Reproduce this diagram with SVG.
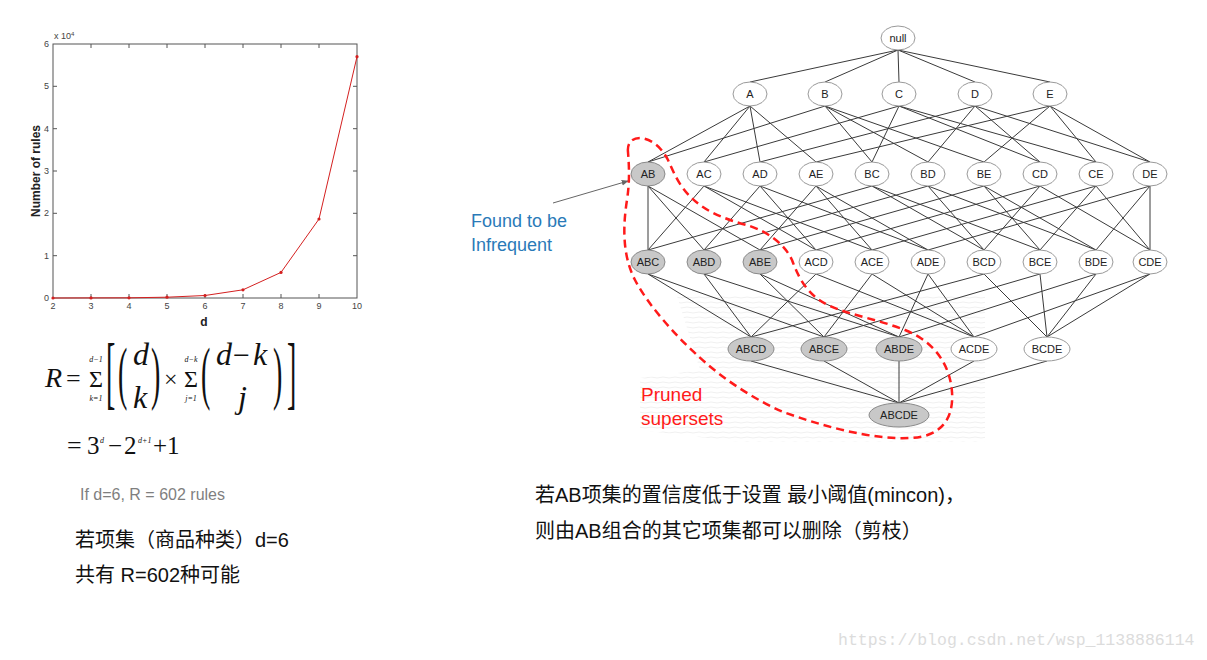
<svg xmlns="http://www.w3.org/2000/svg" width="1207" height="660" viewBox="0 0 1207 660">
<style>
.tk{font-family:"Liberation Sans",Arial,sans-serif;font-size:9px;fill:#444}
.nl{font-family:"Liberation Sans",Arial,sans-serif;font-size:11px;fill:#222;text-anchor:middle}
.nw{fill:#fff;stroke:#9a9a9a;stroke-width:1}
.ng{fill:#c8c8c8;stroke:#8a8a8a;stroke-width:1}
.m{font-family:"Liberation Serif","Times New Roman",serif;fill:#111}
.cn{font-family:"Liberation Sans","Noto Sans CJK SC",sans-serif;font-size:20px;fill:#111}
</style>
<defs>
<marker id="ah" viewBox="0 0 10 10" refX="9" refY="5" markerWidth="7" markerHeight="7" orient="auto"><path d="M0,1 L10,5 L0,9 Z" fill="#666"/></marker>
<pattern id="stripes" width="12" height="5" patternUnits="userSpaceOnUse"><path d="M0,2.5 Q3,1.5 6,2.5 T12,2.5" fill="none" stroke="#f0f0f0" stroke-width="1"/></pattern>
</defs>
<rect width="1207" height="660" fill="#fff"/>

<!-- faint shaded plane behind lower levels -->
<path d="M677,296 L985,296 L985,442 L740,442 L640,430 L640,378 L700,370 Z" fill="url(#stripes)"/>

<!-- chart -->
<g id="chart">
<rect x="53" y="44" width="304" height="254" fill="#fff" stroke="#555" stroke-width="1"/>
<path d="M91,298v-4M129,298v-4M167,298v-4M205,298v-4M243,298v-4M281,298v-4M319,298v-4M91,44v4M129,44v4M167,44v4M205,44v4M243,44v4M281,44v4M319,44v4M53,255.7h4M53,213.3h4M53,171h4M53,128.7h4M53,86.3h4M357,255.7h-4M357,213.3h-4M357,171h-4M357,128.7h-4M357,86.3h-4" stroke="#555" stroke-width="1"/>
<g class="tk" text-anchor="middle">
<text x="53" y="309">2</text><text x="91" y="309">3</text><text x="129" y="309">4</text><text x="167" y="309">5</text><text x="205" y="309">6</text><text x="243" y="309">7</text><text x="281" y="309">8</text><text x="319" y="309">9</text><text x="357" y="309">10</text>
</g>
<g class="tk" text-anchor="end">
<text x="49" y="301">0</text><text x="49" y="259">1</text><text x="49" y="216">2</text><text x="49" y="174">3</text><text x="49" y="132">4</text><text x="49" y="89">5</text><text x="49" y="47">6</text>
</g>
<text class="tk" x="54" y="39" font-size="8">x 10<tspan dy="-3" font-size="6">4</tspan></text>
<text x="40" y="171" transform="rotate(-90 40 171)" text-anchor="middle" font-family="Liberation Sans,Arial,sans-serif" font-size="12" font-weight="bold" fill="#222">Number of rules</text>
<text x="204" y="326" text-anchor="middle" font-family="Liberation Sans,Arial,sans-serif" font-size="12" font-weight="bold" fill="#222">d</text>
<polyline points="53,298 91,297.9 129,297.8 167,297.2 205,295.5 243,289.8 281,272.4 319,219 357,56.7" fill="none" stroke="#d42020" stroke-width="1"/>
<g fill="#d42020">
<circle cx="53" cy="298" r="1.6"/><circle cx="91" cy="297.9" r="1.6"/><circle cx="129" cy="297.8" r="1.6"/><circle cx="167" cy="297.2" r="1.6"/><circle cx="205" cy="295.5" r="1.6"/><circle cx="243" cy="289.8" r="1.6"/><circle cx="281" cy="272.4" r="1.6"/><circle cx="319" cy="219" r="1.6"/><circle cx="357" cy="56.7" r="1.6"/>
</g>
</g>

<!-- formula -->
<g id="formula" class="m">
<text x="45" y="387" font-size="28" font-style="italic">R</text>
<text x="66" y="387" font-size="26">=</text>
<text x="96" y="362" font-size="8" font-style="italic" text-anchor="middle">d−1</text>
<text x="96" y="387" font-size="24" text-anchor="middle">Σ</text>
<text x="96" y="401" font-size="8" font-style="italic" text-anchor="middle">k=1</text>
<text transform="translate(106,380) scale(1,2.9)" y="6.5" font-size="28">[</text>
<text transform="translate(118,380) scale(1,2.5)" y="6.5" font-size="28">(</text>
<text x="133" y="365" font-size="32" font-style="italic">d</text>
<text x="133" y="408" font-size="32" font-style="italic">k</text>
<text transform="translate(151,380) scale(1,2.5)" y="6.5" font-size="28">)</text>
<text x="164" y="387" font-size="24">×</text>
<text x="191" y="362" font-size="8" font-style="italic" text-anchor="middle">d−k</text>
<text x="191" y="387" font-size="24" text-anchor="middle">Σ</text>
<text x="191" y="401" font-size="8" font-style="italic" text-anchor="middle">j=1</text>
<text transform="translate(201,380) scale(1,2.5)" y="6.5" font-size="28">(</text>
<text x="216" y="365" font-size="32" font-style="italic">d</text>
<text x="233" y="365" font-size="30">−</text>
<text x="253" y="365" font-size="32" font-style="italic">k</text>
<text x="238" y="408" font-size="32" font-style="italic">j</text>
<text transform="translate(273,380) scale(1,2.5)" y="6.5" font-size="28">)</text>
<text transform="translate(287,380) scale(1,2.9)" y="6.5" font-size="28">]</text>
<text x="67" y="454" font-size="26">=</text>
<text x="87" y="454" font-size="25">3</text>
<text x="100" y="443" font-size="8" font-style="italic">d</text>
<text x="108" y="454" font-size="25">−</text>
<text x="124" y="454" font-size="25">2</text>
<text x="138" y="443" font-size="8" font-style="italic">d+1</text>
<text x="153" y="454" font-size="25">+</text>
<text x="167" y="454" font-size="25">1</text>
</g>
<text x="80" y="500" font-family="Liberation Sans,Arial,sans-serif" font-size="16" fill="#7f7f7f">If d=6,  R = 602 rules</text>

<text class="cn" x="75" y="547">若项集（商品种类）d=6</text>
<text class="cn" x="75" y="582">共有 R=602种可能</text>
<text class="cn" x="535" y="502">若AB项集的置信度低于设置 最小阈值(mincon)，</text>
<text class="cn" x="535" y="538">则由AB组合的其它项集都可以删除（剪枝）</text>
<text x="838" y="645" font-family="Liberation Mono,monospace" font-size="16.5" fill="#dcdcdc">https://blog.csdn.net/wsp_1138886114</text>

<!-- connectors -->
<g id="connectors" fill="none" stroke="#3a3a3a" stroke-width="1">
<path d="M898,50L750,82M898,50L825,82M898,50L899,82M898,50L975,82M898,50L1050,82"/>
<path d="M750,106L648,162M750,106L704,162M750,106L760,162M750,106L816,162M825,106L648,162M825,106L872,162M825,106L928,162M825,106L984,162M899,106L704,162M899,106L872,162M899,106L1040,162M899,106L1096,162M975,106L760,162M975,106L928,162M975,106L1040,162M975,106L1150,162M1050,106L816,162M1050,106L984,162M1050,106L1096,162M1050,106L1150,162"/>
<path d="M648,186L648,250M648,186L704,250M648,186L760,250M704,186L648,250M704,186L816,250M704,186L872,250M760,186L704,250M760,186L816,250M760,186L928,250M816,186L760,250M816,186L872,250M816,186L928,250M872,186L648,250M872,186L984,250M872,186L1040,250M928,186L704,250M928,186L984,250M928,186L1096,250M984,186L760,250M984,186L1040,250M984,186L1096,250M1040,186L816,250M1040,186L984,250M1040,186L1150,250M1096,186L872,250M1096,186L1040,250M1096,186L1150,250M1150,186L928,250M1150,186L1096,250M1150,186L1150,250"/>
<path d="M648,274L751,337M648,274L824,337M704,274L751,337M704,274L899,337M760,274L824,337M760,274L899,337M816,274L751,337M816,274L974,337M872,274L824,337M872,274L974,337M928,274L899,337M928,274L974,337M984,274L751,337M984,274L1047,337M1040,274L824,337M1040,274L1047,337M1096,274L899,337M1096,274L1047,337M1150,274L974,337M1150,274L1047,337"/>
<path d="M751,361L899,403M824,361L899,403M899,361L899,403M974,361L899,403M1047,361L899,403"/>
<line x1="553" y1="203" x2="628" y2="181" stroke="#666" marker-end="url(#ah)"/>
</g>

<!-- nodes -->
<g id="n-null"><ellipse class="nw" cx="898" cy="38" rx="17" ry="12"/><text class="nl" x="898" y="42">null</text></g>
<g id="n-A"><ellipse class="nw" cx="750" cy="94" rx="17" ry="12"/><text class="nl" x="750" y="98">A</text></g>
<g id="n-B"><ellipse class="nw" cx="825" cy="94" rx="17" ry="12"/><text class="nl" x="825" y="98">B</text></g>
<g id="n-C"><ellipse class="nw" cx="899" cy="94" rx="17" ry="12"/><text class="nl" x="899" y="98">C</text></g>
<g id="n-D"><ellipse class="nw" cx="975" cy="94" rx="17" ry="12"/><text class="nl" x="975" y="98">D</text></g>
<g id="n-E"><ellipse class="nw" cx="1050" cy="94" rx="17" ry="12"/><text class="nl" x="1050" y="98">E</text></g>

<g id="n-AB"><ellipse class="ng" cx="648" cy="174" rx="17" ry="12"/><text class="nl" x="648" y="178">AB</text></g>
<g id="n-AC"><ellipse class="nw" cx="704" cy="174" rx="17" ry="12"/><text class="nl" x="704" y="178">AC</text></g>
<g id="n-AD"><ellipse class="nw" cx="760" cy="174" rx="17" ry="12"/><text class="nl" x="760" y="178">AD</text></g>
<g id="n-AE"><ellipse class="nw" cx="816" cy="174" rx="17" ry="12"/><text class="nl" x="816" y="178">AE</text></g>
<g id="n-BC"><ellipse class="nw" cx="872" cy="174" rx="17" ry="12"/><text class="nl" x="872" y="178">BC</text></g>
<g id="n-BD"><ellipse class="nw" cx="928" cy="174" rx="17" ry="12"/><text class="nl" x="928" y="178">BD</text></g>
<g id="n-BE"><ellipse class="nw" cx="984" cy="174" rx="17" ry="12"/><text class="nl" x="984" y="178">BE</text></g>
<g id="n-CD"><ellipse class="nw" cx="1040" cy="174" rx="17" ry="12"/><text class="nl" x="1040" y="178">CD</text></g>
<g id="n-CE"><ellipse class="nw" cx="1096" cy="174" rx="17" ry="12"/><text class="nl" x="1096" y="178">CE</text></g>
<g id="n-DE"><ellipse class="nw" cx="1150" cy="174" rx="17" ry="12"/><text class="nl" x="1150" y="178">DE</text></g>

<g id="n-ABC"><ellipse class="ng" cx="648" cy="262" rx="17" ry="12"/><text class="nl" x="648" y="266">ABC</text></g>
<g id="n-ABD"><ellipse class="ng" cx="704" cy="262" rx="17" ry="12"/><text class="nl" x="704" y="266">ABD</text></g>
<g id="n-ABE"><ellipse class="ng" cx="760" cy="262" rx="17" ry="12"/><text class="nl" x="760" y="266">ABE</text></g>
<g id="n-ACD"><ellipse class="nw" cx="816" cy="262" rx="17" ry="12"/><text class="nl" x="816" y="266">ACD</text></g>
<g id="n-ACE"><ellipse class="nw" cx="872" cy="262" rx="17" ry="12"/><text class="nl" x="872" y="266">ACE</text></g>
<g id="n-ADE"><ellipse class="nw" cx="928" cy="262" rx="17" ry="12"/><text class="nl" x="928" y="266">ADE</text></g>
<g id="n-BCD"><ellipse class="nw" cx="984" cy="262" rx="17" ry="12"/><text class="nl" x="984" y="266">BCD</text></g>
<g id="n-BCE"><ellipse class="nw" cx="1040" cy="262" rx="17" ry="12"/><text class="nl" x="1040" y="266">BCE</text></g>
<g id="n-BDE"><ellipse class="nw" cx="1096" cy="262" rx="17" ry="12"/><text class="nl" x="1096" y="266">BDE</text></g>
<g id="n-CDE"><ellipse class="nw" cx="1150" cy="262" rx="17" ry="12"/><text class="nl" x="1150" y="266">CDE</text></g>

<g id="n-ABCD"><ellipse class="ng" cx="751" cy="349" rx="23" ry="12"/><text class="nl" x="751" y="353">ABCD</text></g>
<g id="n-ABCE"><ellipse class="ng" cx="824" cy="349" rx="23" ry="12"/><text class="nl" x="824" y="353">ABCE</text></g>
<g id="n-ABDE"><ellipse class="ng" cx="899" cy="349" rx="23" ry="12"/><text class="nl" x="899" y="353">ABDE</text></g>
<g id="n-ACDE"><ellipse class="nw" cx="974" cy="349" rx="23" ry="12"/><text class="nl" x="974" y="353">ACDE</text></g>
<g id="n-BCDE"><ellipse class="nw" cx="1047" cy="349" rx="23" ry="12"/><text class="nl" x="1047" y="353">BCDE</text></g>
<g id="n-ABCDE"><ellipse class="ng" cx="899" cy="415" rx="30" ry="12"/><text class="nl" x="899" y="419">ABCDE</text></g>

<!-- pruned region -->
<path d="M628,152 C627,143 632,138 640,138 C652,139 662,148 668,160 C675,175 680,190 700,205 C715,216 735,222 750,226 C770,233 785,245 792,260 C800,282 810,297 830,306 C850,315 880,320 905,330 C935,342 950,365 952,392 C954,420 940,437 910,438 C870,440 820,425 783,412 C745,395 715,372 697,355 C675,335 648,305 635,280 C622,255 623,225 627,200 C630,180 629,165 628,152 Z" fill="none" stroke="#ff1a1a" stroke-width="2.5" stroke-dasharray="8,5"/>

<text x="471" y="227" font-family="Liberation Sans,Arial,sans-serif" font-size="18" fill="#2a7ab8">Found to be</text>
<text x="471" y="251" font-family="Liberation Sans,Arial,sans-serif" font-size="18" fill="#2a7ab8">Infrequent</text>
<text x="641" y="401" font-family="Liberation Sans,Arial,sans-serif" font-size="19" fill="#ff1a1a">Pruned</text>
<text x="641" y="425" font-family="Liberation Sans,Arial,sans-serif" font-size="19" fill="#ff1a1a">supersets</text>
</svg>
